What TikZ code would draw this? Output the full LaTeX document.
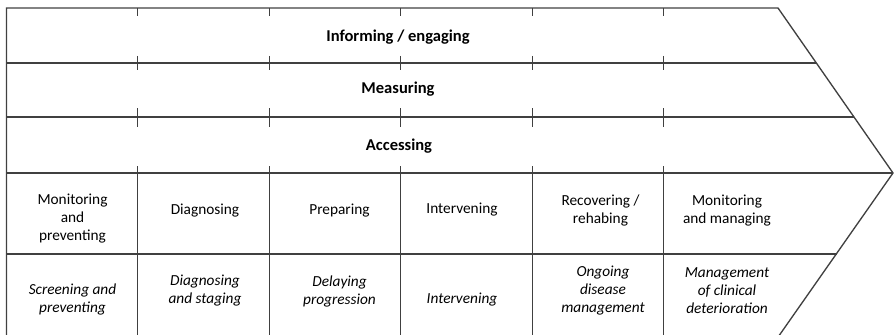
\documentclass[tikz,border=0pt]{standalone}
\usepackage{fontspec}
\setmainfont{Carlito}
\begin{document}
\begin{tikzpicture}[x=0.75pt,y=-0.75pt]
\tikzset{
  frame/.style={draw=black!75, line width=1pt},
  tick/.style={draw=black!75, line width=1pt},
  head/.style={font=\fontsize{12.4}{14}\selectfont\bfseries, text=black, inner sep=0pt},
  cell/.style={font=\fontsize{11.5}{13.5}\selectfont, align=center, text=black, inner sep=0pt},
  celli/.style={font=\fontsize{11.5}{13.5}\selectfont\itshape, align=center, text=black, inner sep=0pt}
}
\useasboundingbox (0,0) rectangle (895,335);
\clip (0,0) rectangle (895,335);
% outline
\draw[frame] (6.5,340) -- (6.5,8) -- (778,8) -- (893,173) -- (776,340);
% horizontal lines
\draw[frame] (6.5,63) -- (816.3,63);
\draw[frame] (6.5,117) -- (854,117);
\draw[frame] (6.5,173) -- (893,173);
\draw[frame] (6.5,254) -- (836.5,254);
% ticks and column lines
\foreach \x in {137.5,269.3,400.8,532.3,663.3}{
  \draw[tick] (\x,8) -- (\x,16);
  \draw[tick] (\x,56) -- (\x,70);
  \draw[tick] (\x,108) -- (\x,127);
  \draw[tick] (\x,166) -- (\x,340);
}
% band labels
\node[head] (inf) at (398,37) {Informing / engaging};
\node[head] (mea) at (398,89) {Measuring};
\node[head] (acc) at (399,146) {Accessing};
% row 1
\node[cell] (c11) at (72.5,219) {Monitoring\\and\\preventing};
\node[cell] (c12) at (205,211) {Diagnosing};
\node[cell] (c13) at (339.5,211) {Preparing};
\node[cell] (c14) at (462,210) {Intervening};
\node[cell] (c15) at (600.5,210.5) {Recovering /\\rehabing};
\node[cell] (c16) at (727,210.5) {Monitoring\\and managing};
% row 2
\node[celli] (d11) at (72.5,299) {Screening and\\preventing};
\node[celli] (d12) at (205,291) {Diagnosing\\and staging};
\node[celli] (d13) at (339.5,291) {Delaying\\progression};
\node[celli] (d14) at (462,300) {Intervening};
\node[celli] (d15) at (603,291) {Ongoing\\disease\\management};
\node[celli] (d16) at (727,291) {Management\\of clinical\\deterioration};
\end{tikzpicture}
\end{document}
